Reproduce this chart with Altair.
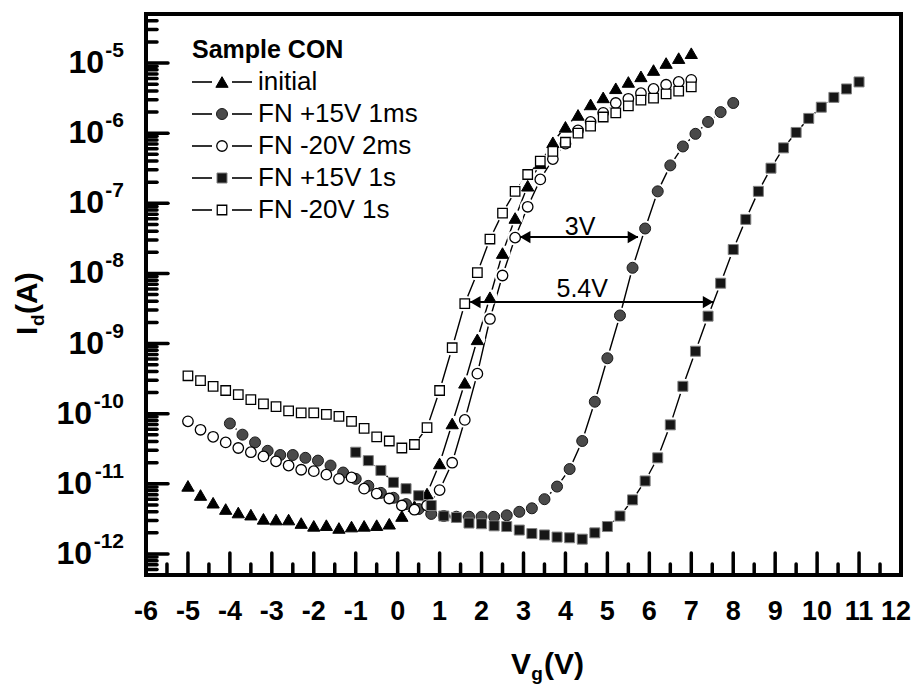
import altair as alt
import pandas as pd

FONT = "Liberation Sans"

series_names = ["initial", "FN +15V 1ms", "FN -20V 2ms", "FN +15V 1s", "FN -20V 1s"]

vg_sweep_a = [-5.0, -4.7, -4.4, -4.1, -3.8, -3.5, -3.2, -2.9, -2.6, -2.3, -2.0, -1.7, -1.4, -1.1,
              -0.8, -0.5, -0.2, 0.1, 0.4, 0.7, 1.0, 1.3, 1.6, 1.9, 2.2, 2.5, 2.8, 3.1, 3.4, 3.7,
              4.0, 4.3, 4.6, 4.9, 5.2, 5.5, 5.8, 6.1, 6.4, 6.7, 7.0]
vg_sweep_b = [-4.0, -3.7, -3.4, -3.1, -2.8, -2.5, -2.2, -1.9, -1.6, -1.3, -1.0, -0.7, -0.4, -0.1,
              0.2, 0.5, 0.8, 1.1, 1.4, 1.7, 2.0, 2.3, 2.6, 2.9, 3.2, 3.5, 3.8, 4.1, 4.4, 4.7,
              5.0, 5.3, 5.6, 5.9, 6.2, 6.5, 6.8, 7.1, 7.4, 7.7, 8.0]
vg_sweep_c = [-1.0, -0.7, -0.4, -0.1, 0.2, 0.5, 0.8, 1.1, 1.4, 1.7, 2.0, 2.3, 2.6, 2.9, 3.2,
              3.5, 3.8, 4.1, 4.4, 4.7, 5.0, 5.3, 5.6, 5.9, 6.2, 6.5, 6.8, 7.1, 7.4, 7.7, 8.0,
              8.3, 8.6, 8.9, 9.2, 9.5, 9.8, 10.1, 10.4, 10.7, 11.0]

# log10 of Id (A)
log10_id_initial = [-11.03, -11.16, -11.27, -11.36, -11.41, -11.44, -11.50, -11.51, -11.51, -11.56,
                    -11.60, -11.59, -11.63, -11.61, -11.60, -11.59, -11.57, -11.46, -11.32, -11.14,
                    -10.71, -10.14, -9.56, -8.94, -8.34, -7.71, -7.21, -6.75, -6.43, -6.13,
                    -5.91, -5.74, -5.59, -5.49, -5.36, -5.27, -5.19, -5.10, -5.00, -4.93, -4.86]
log10_id_p15_1ms = [-10.14, -10.30, -10.41, -10.53, -10.59, -10.59, -10.63, -10.67, -10.74, -10.84,
                    -10.93, -11.03, -11.13, -11.20, -11.29, -11.36, -11.43, -11.46, -11.47, -11.47,
                    -11.47, -11.47, -11.45, -11.40, -11.35, -11.22, -11.04, -10.79, -10.39, -9.83,
                    -9.21, -8.60, -7.92, -7.36, -6.83, -6.46, -6.19, -6.01, -5.84, -5.70, -5.57]
log10_id_m20_2ms = [-10.11, -10.23, -10.33, -10.41, -10.49, -10.55, -10.61, -10.68, -10.74, -10.80,
                    -10.82, -10.87, -10.93, -10.91, -11.07, -11.14, -11.21, -11.31, -11.37, -11.31,
                    -11.09, -10.70, -10.09, -9.43, -8.65, -8.03, -7.49, -7.05, -6.66, -6.37,
                    -6.15, -5.96, -5.84, -5.71, -5.57, -5.51, -5.43, -5.37, -5.31, -5.27, -5.24]
log10_id_p15_1s = [-10.55, -10.67, -10.81, -10.98, -11.07, -11.17, -11.31, -11.46, -11.48, -11.56,
                   -11.57, -11.60, -11.61, -11.66, -11.71, -11.73, -11.76, -11.77, -11.79, -11.70,
                   -11.61, -11.46, -11.23, -10.96, -10.63, -10.16, -9.61, -9.11, -8.61, -8.14,
                   -7.66, -7.23, -6.83, -6.50, -6.21, -5.99, -5.79, -5.63, -5.49, -5.37, -5.27]
log10_id_m20_1s = [-9.46, -9.53, -9.61, -9.67, -9.73, -9.80, -9.86, -9.90, -9.96, -9.99,
                   -9.99, -10.01, -10.04, -10.11, -10.21, -10.33, -10.39, -10.49, -10.44, -10.20,
                   -9.67, -9.06, -8.43, -7.99, -7.51, -7.14, -6.83, -6.59, -6.40, -6.26,
                   -6.13, -6.00, -5.90, -5.77, -5.71, -5.61, -5.53, -5.50, -5.44, -5.40, -5.34]

x_major_ticks = [-6, -5, -4, -3, -2, -1, 0, 1, 2, 3, 4, 5, 6, 7, 8, 9, 10, 11, 12]
y_major_exponents = [-12, -11, -10, -9, -8, -7, -6, -5]
y_minor_multipliers = [2, 3, 4, 5, 6, 7, 8, 9]

arrow_labels = ["3V", "5.4V"]
arrow_x_start = [2.92, 1.73]
arrow_x_end = [5.73, 7.52]
arrow_y = [3.3e-8, 3.9e-9]
arrow_text_x = [4.35, 4.4]
arrow_text_y = [4.6e-8, 5.9e-9]

W, H = 755, 561
X_SCALE = alt.Scale(domain=[-6, 12], nice=False, zero=False)
Y_SCALE = alt.Scale(type="log", domain=[5e-13, 5e-5], nice=False)

sweeps = [vg_sweep_a, vg_sweep_b, vg_sweep_a, vg_sweep_c, vg_sweep_a]
logs = [log10_id_initial, log10_id_p15_1ms, log10_id_m20_2ms, log10_id_p15_1s, log10_id_m20_1s]
rows = []
for name, vgs, lg in zip(series_names, sweeps, logs):
    for v, l in zip(vgs, lg):
        rows.append({"series": name, "vg": v, "id": 10 ** l})
df = pd.DataFrame(rows)

X = alt.X("vg:Q", scale=X_SCALE, axis=None)
Y = alt.Y("id:Q", scale=Y_SCALE, axis=None)

styles = {
    "initial": dict(shape="triangle-up", fill="black", stroke="black", strokeWidth=1, size=150),
    "FN +15V 1ms": dict(shape="circle", fill="#4a4a4a", stroke="#1a1a1a", strokeWidth=1, size=121),
    "FN -20V 2ms": dict(shape="circle", fill="white", stroke="black", strokeWidth=1.3, size=110),
    "FN +15V 1s": dict(shape="square", fill="#161616", stroke="#808080", strokeWidth=1, size=100),
    "FN -20V 1s": dict(shape="square", fill="white", stroke="black", strokeWidth=1.3, size=90),
}

layers = []
layers.append(alt.Chart(df).mark_line(color="black", strokeWidth=1.4).encode(
    x=X, y=Y, detail="series:N", order="vg:Q"))
layers.append(alt.Chart(df).mark_point(filled=True, color="white", opacity=1, size=250, shape="circle").encode(
    x=X, y=Y))
for name in series_names:
    st = styles[name]
    layers.append(alt.Chart(df[df.series == name]).mark_point(
        filled=True, opacity=1, fillOpacity=1, **st).encode(x=X, y=Y))

# axis ticks (inward)
xt_major = pd.DataFrame({"v": x_major_ticks, "label": [str(v) for v in x_major_ticks]})
xt_minor = pd.DataFrame({"v": [v + 0.5 for v in x_major_ticks[:-1]]})
yt_major = pd.DataFrame({"v": [10.0 ** e for e in y_major_exponents],
                         "expo": [str(e) for e in y_major_exponents]})
yt_minor = pd.DataFrame({"v": [m * 10.0 ** e for e in [-13] + y_major_exponents for m in y_minor_multipliers
                               if 5e-13 <= m * 10.0 ** e <= 5.01e-5]})

tick_style = dict(color="black", strokeWidth=3.5, strokeCap="round")
layers.append(alt.Chart(xt_major).mark_rule(**tick_style).encode(
    x=alt.X("v:Q", scale=X_SCALE, axis=None), y=alt.value(H), y2=alt.value(H - 22)))
layers.append(alt.Chart(xt_minor).mark_rule(**tick_style).encode(
    x=alt.X("v:Q", scale=X_SCALE, axis=None), y=alt.value(H), y2=alt.value(H - 11)))
layers.append(alt.Chart(yt_major).mark_rule(**tick_style).encode(
    y=alt.Y("v:Q", scale=Y_SCALE, axis=None), x=alt.value(0), x2=alt.value(22)))
layers.append(alt.Chart(yt_minor).mark_rule(**tick_style).encode(
    y=alt.Y("v:Q", scale=Y_SCALE, axis=None), x=alt.value(0), x2=alt.value(11)))

# tick labels
layers.append(alt.Chart(xt_major).transform_filter("datum.v < 12").mark_text(
    font=FONT, fontSize=27, fontWeight="bold", baseline="middle").encode(
    x=alt.X("v:Q", scale=X_SCALE, axis=None), y=alt.value(H + 37), text="label:N"))
layers.append(alt.Chart(xt_major).transform_filter("datum.v >= 12").mark_text(
    font=FONT, fontSize=27, fontWeight="bold", baseline="middle", dx=-5).encode(
    x=alt.X("v:Q", scale=X_SCALE, axis=None), y=alt.value(H + 37), text="label:N"))
EXP_RIGHT = -22
EXP_SIZE = 21
layers.append(alt.Chart(yt_major).mark_text(font=FONT, fontSize=EXP_SIZE, fontWeight="bold", align="right",
                                            baseline="middle", dy=-12).encode(
    y=alt.Y("v:Q", scale=Y_SCALE, axis=None), x=alt.value(EXP_RIGHT), text="expo:N"))
layers.append(alt.Chart(yt_major).transform_filter("length(datum.expo) == 2").mark_text(
    font=FONT, fontSize=32, fontWeight="bold", align="right", baseline="middle").encode(
    y=alt.Y("v:Q", scale=Y_SCALE, axis=None), x=alt.value(EXP_RIGHT - 20), text=alt.value("10")))
layers.append(alt.Chart(yt_major).transform_filter("length(datum.expo) == 3").mark_text(
    font=FONT, fontSize=32, fontWeight="bold", align="right", baseline="middle").encode(
    y=alt.Y("v:Q", scale=Y_SCALE, axis=None), x=alt.value(EXP_RIGHT - 32), text=alt.value("10")))

# axis titles
one = pd.DataFrame({"k": [0]})
def txt(t, x, y, size, weight="bold", **kw):
    return alt.Chart(one).mark_text(font=FONT, fontSize=size, fontWeight=weight, baseline="middle", **kw).encode(
        x=alt.value(x), y=alt.value(y), text=alt.value(t))

layers += [
    txt("V", 385, H + 90, 30, align="right"),
    txt("g", 391, H + 99, 19, align="center"),
    txt("(V)", 398, H + 90, 30, align="left"),
    txt("I", -118, 321, 30, align="left", angle=270),
    txt("d", -108, 312, 19, align="left", angle=270),
    txt("(A)", -118, 300, 30, align="left", angle=270),
]

# annotation arrows
ann = pd.DataFrame({"label": arrow_labels, "x0": arrow_x_start, "x1": arrow_x_end, "y": arrow_y,
                    "tx": arrow_text_x, "ty": arrow_text_y})
layers.append(alt.Chart(ann).mark_rule(color="black", strokeWidth=2).encode(
    x=alt.X("x0:Q", scale=X_SCALE, axis=None), x2="x1:Q", y=alt.Y("y:Q", scale=Y_SCALE, axis=None)))
layers.append(alt.Chart(ann).mark_point(shape="triangle-left", filled=True, color="black", opacity=1,
                                        size=150, xOffset=5).encode(
    x=alt.X("x0:Q", scale=X_SCALE, axis=None), y=alt.Y("y:Q", scale=Y_SCALE, axis=None)))
layers.append(alt.Chart(ann).mark_point(shape="triangle-right", filled=True, color="black", opacity=1,
                                        size=150, xOffset=-5).encode(
    x=alt.X("x1:Q", scale=X_SCALE, axis=None), y=alt.Y("y:Q", scale=Y_SCALE, axis=None)))
layers.append(alt.Chart(ann).mark_text(font=FONT, fontSize=25, baseline="middle").encode(
    x=alt.X("tx:Q", scale=X_SCALE, axis=None), y=alt.Y("ty:Q", scale=Y_SCALE, axis=None), text="label:N"))

# legend
LEG_X, LEG_Y0, LEG_DY = 46, 68, 32
layers.append(txt("Sample CON", LEG_X, 36, 25, align="left"))
for i, name in enumerate(series_names):
    ly = LEG_Y0 + LEG_DY * i
    st = styles[name]
    layers.append(alt.Chart(one).mark_rule(color="black", strokeWidth=1.6).encode(
        x=alt.value(LEG_X), x2=alt.value(LEG_X + 20), y=alt.value(ly)))
    layers.append(alt.Chart(one).mark_rule(color="black", strokeWidth=1.6).encode(
        x=alt.value(LEG_X + 40), x2=alt.value(LEG_X + 60), y=alt.value(ly)))
    layers.append(alt.Chart(one).mark_point(filled=True, opacity=1, fillOpacity=1, **st).encode(
        x=alt.value(LEG_X + 30), y=alt.value(ly)))
    layers.append(alt.Chart(pd.DataFrame({"t": [name]})).mark_text(
        font=FONT, fontSize=26, align="left", baseline="middle").encode(
        x=alt.value(LEG_X + 66), y=alt.value(ly), text="t:N"))

chart = alt.layer(*layers).properties(
    width=W, height=H,
    autosize=alt.AutoSizeParams(type="none"),
    padding={"left": 138, "top": 6, "right": 11, "bottom": 112},
).configure_view(stroke="black", strokeWidth=4)

chart.save("out.html", embed_options={"renderer": "svg", "actions": False})
